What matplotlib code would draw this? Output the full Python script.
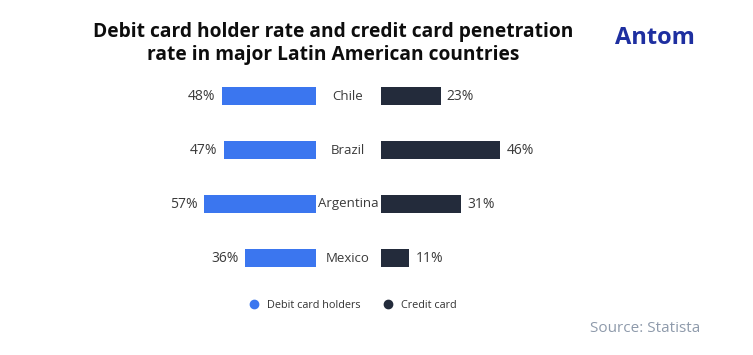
import matplotlib
matplotlib.use("Agg")
import matplotlib.pyplot as plt
from matplotlib.lines import Line2D

countries = ["Chile", "Brazil", "Argentina", "Mexico"]
debit = [48, 47, 57, 36]
credit = [23, 46, 31, 11]
series_names = ["Debit card holders", "Credit card"]

BLUE = "#3B76EF"
DARK = "#232B3B"
TXT = "#3A3A3A"

W, H = 753, 355
fig = plt.figure(figsize=(W / 100, H / 100), dpi=100)
fig.patch.set_facecolor("white")
FONT = "Open Sans"

def fx(px):
    return px / W

def fy(py):
    return 1 - py / H

# axes vertical extent (pixels from top)
top, bot = 69, 285
lax = fig.add_axes([fx(100), fy(bot), fx(316 - 100), (bot - top) / H])
rax = fig.add_axes([fx(381), fy(bot), fx(600 - 381), (bot - top) / H])

ypos = list(range(len(countries)))
lax.barh(ypos, debit, height=0.35, color=BLUE)
rax.barh(ypos, credit, height=0.35, color=DARK)
lax.set_xlim((316 - 100) / 1.96, 0)
rax.set_xlim(0, (600 - 381) / 2.59)
for ax in (lax, rax):
    ax.set_ylim(len(countries) - 0.5, -0.5)
    ax.axis("off")

for y, v in zip(ypos, debit):
    lax.annotate(f"{v}%", (v, y), xytext=(-4.5, 0), textcoords="offset points",
                 ha="right", va="center", fontsize=10, color=TXT, family=FONT)
for y, v in zip(ypos, credit):
    rax.annotate(f"{v}%", (v, y), xytext=(4.5, 0), textcoords="offset points",
                 ha="left", va="center", fontsize=10, color=TXT, family=FONT)
for y, c in zip(ypos, countries):
    py = top + (y + 0.5) * (bot - top) / len(countries)
    fig.text(fx(348), fy(py), c, ha="center", va="center", fontsize=9.5,
             color=TXT, family=FONT)

fig.text(fx(333), fy(32), "Debit card holder rate and credit card penetration",
         ha="center", va="center", fontsize=13.8, fontweight="bold", color="#0D0D0D", family=FONT)
fig.text(fx(333), fy(55), "rate in major Latin American countries",
         ha="center", va="center", fontsize=13.8, fontweight="bold", color="#0D0D0D", family=FONT)

fig.text(fx(655), fy(38), "Antom", ha="center", va="center", fontsize=17,
         fontweight="bold", color="#1E2FA0", family=FONT)

handles = [Line2D([], [], marker="o", linestyle="", color=BLUE, markersize=6),
           Line2D([], [], marker="o", linestyle="", color=DARK, markersize=6)]
leg = fig.legend(handles, series_names, loc="center", bbox_to_anchor=(fx(350), fy(305)),
                 ncol=2, frameon=False, handletextpad=0.2, columnspacing=1.6,
                 prop={"family": FONT, "size": 7.8})
for t in leg.get_texts():
    t.set_color("#333333")

fig.text(fx(700), fy(328), "Source: Statista", ha="right", va="center", fontsize=11,
         color="#8E9AAB", family=FONT)

fig.savefig("out.png", dpi=100, facecolor="white")
